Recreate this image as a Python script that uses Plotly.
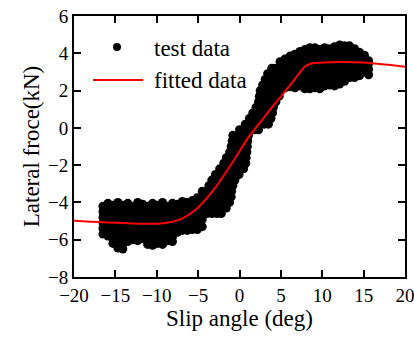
import plotly.graph_objects as go

# ---- measured tyre data -------------------------------------------------
# Lower saturation region: slip-angle columns and the forces recorded in each
low_slip = [-16.5, -15.9, -15.3, -14.7, -14.1, -13.5, -12.9, -12.3, -11.7, -11.1,
            -10.5, -9.9, -9.3, -8.7, -8.1, -7.5, -6.9, -6.3, -5.7, -5.1, -4.5]
low_force = [
    [-4.2, -4.5, -4.8, -5.1, -5.4, -5.7],
    [-4.05, -4.35, -4.65, -4.95, -5.25, -5.55, -5.8],
    [-4.15, -4.45, -4.75, -5.05, -5.35, -5.65, -5.95, -6.2],
    [-4.0, -4.3, -4.6, -4.9, -5.2, -5.5, -5.8, -6.1, -6.45],
    [-4.15, -4.45, -4.75, -5.05, -5.35, -5.65, -5.95, -6.25, -6.5],
    [-4.05, -4.35, -4.65, -4.95, -5.25, -5.55, -5.85, -6.1],
    [-4.2, -4.5, -4.8, -5.1, -5.4, -5.7, -6.0],
    [-4.0, -4.3, -4.6, -4.9, -5.2, -5.5, -5.8, -6.05],
    [-4.1, -4.4, -4.7, -5.0, -5.3, -5.6, -5.95],
    [-4.2, -4.5, -4.8, -5.1, -5.4, -5.7, -6.0, -6.25],
    [-4.05, -4.35, -4.65, -4.95, -5.25, -5.55, -5.85, -6.15, -6.3],
    [-4.15, -4.45, -4.75, -5.05, -5.35, -5.65, -5.95, -6.2],
    [-4.0, -4.3, -4.6, -4.9, -5.2, -5.5, -5.8, -6.1, -6.25],
    [-4.2, -4.5, -4.8, -5.1, -5.4, -5.7, -6.05],
    [-4.05, -4.35, -4.65, -4.95, -5.25, -5.55, -5.85, -6.1],
    [-4.1, -4.4, -4.7, -5.0, -5.3, -5.6],
    [-3.95, -4.25, -4.55, -4.85, -5.15, -5.5],
    [-4.0, -4.3, -4.6, -4.9, -5.2, -5.5],
    [-3.9, -4.2, -4.5, -4.8, -5.1, -5.45],
    [-3.75, -4.05, -4.35, -4.65, -4.95, -5.25, -5.45],
    [-3.4, -3.7, -4.0, -4.3, -4.6, -4.9, -5.3],
]

# Linear region: force levels and the slip angles recorded at each level
ramp_force = [-4.6, -4.3, -4.0, -3.7, -3.4, -3.1, -2.8, -2.5, -2.2, -1.9,
              -1.6, -1.3, -1.0, -0.7, -0.4, -0.1, 0.2, 0.5, 0.8, 1.1,
              1.4, 1.7, 2.0, 2.3, 2.6, 2.9, 3.2]
ramp_slip = [
    [-3.9, -3.3, -2.7, -2.2],
    [-3.9, -3.3, -2.7, -2.1, -1.6],
    [-3.9, -3.3, -2.7, -2.1, -1.6, -1.2],
    [-3.9, -3.3, -2.7, -2.1, -1.5, -1.0],
    [-3.9, -3.3, -2.7, -2.1, -1.5, -0.95],
    [-3.7, -3.1, -2.5, -1.9, -1.3, -0.8],
    [-3.35, -2.8, -2.2, -1.6, -1.0, -0.55],
    [-2.9, -2.3, -1.7, -1.1, -0.5, -0.05],
    [-2.4, -1.8, -1.2, -0.6, 0.0, 0.5],
    [-1.9, -1.35, -0.75, -0.15, 0.4, 0.75],
    [-1.6, -1.0, -0.4, 0.2, 0.8],
    [-1.2, -0.6, 0.0, 0.5, 0.9],
    [-1.0, -0.4, 0.2, 0.7, 0.95],
    [-0.9, -0.3, 0.3, 0.8, 1.0],
    [-0.8, -0.2, 0.4, 0.9, 1.1],
    [0.0, 0.6, 1.2, 1.75, 2.3],
    [0.7, 1.3, 1.9, 2.5, 3.0, 3.5],
    [1.2, 1.8, 2.4, 3.0, 3.5, 3.8],
    [1.6, 2.2, 2.8, 3.4, 4.0],
    [2.0, 2.6, 3.2, 3.7, 4.1],
    [2.3, 2.9, 3.5, 4.0, 4.4],
    [2.4, 3.0, 3.6, 4.2, 4.8],
    [2.5, 3.1, 3.7, 4.3, 4.9],
    [2.8, 3.4, 4.0, 4.5],
    [3.1, 3.7, 4.3],
    [3.4, 4.0, 4.5],
    [3.9, 4.4],
]

# Upper saturation region: slip-angle columns and the forces recorded in each
high_slip = [4.9, 5.5, 6.1, 6.7, 7.3, 7.9, 8.5, 9.1, 9.7, 10.3,
             10.9, 11.5, 12.1, 12.7, 13.3, 13.9, 14.5, 15.1, 15.6]
high_force = [
    [2.3, 2.6, 2.9, 3.2, 3.55],
    [2.15, 2.45, 2.75, 3.05, 3.35, 3.7],
    [2.2, 2.5, 2.8, 3.1, 3.4, 3.7, 3.85],
    [2.15, 2.45, 2.75, 3.05, 3.35, 3.65, 3.95],
    [2.25, 2.55, 2.85, 3.15, 3.45, 3.75, 4.1],
    [2.1, 2.4, 2.7, 3.0, 3.3, 3.6, 3.9, 4.2],
    [2.1, 2.4, 2.7, 3.0, 3.3, 3.6, 3.9, 4.3],
    [2.15, 2.45, 2.75, 3.05, 3.35, 3.65, 3.95, 4.3],
    [2.1, 2.4, 2.7, 3.0, 3.3, 3.6, 3.9, 4.2],
    [2.25, 2.55, 2.85, 3.15, 3.45, 3.75, 4.05, 4.3],
    [2.3, 2.6, 2.9, 3.2, 3.5, 3.8, 4.1, 4.25],
    [2.25, 2.55, 2.85, 3.15, 3.45, 3.75, 4.05, 4.35],
    [2.35, 2.65, 2.95, 3.25, 3.55, 3.85, 4.15, 4.45],
    [2.5, 2.8, 3.1, 3.4, 3.7, 4.0, 4.4],
    [2.7, 3.0, 3.3, 3.6, 3.9, 4.2, 4.4],
    [2.7, 3.0, 3.3, 3.6, 3.9, 4.25],
    [2.8, 3.1, 3.4, 3.7, 4.05],
    [3.0, 3.3, 3.6, 3.9],
    [2.85, 3.15, 3.45, 3.6],
]

# ---- fitted tyre model ----------------------------------------------------
fit_slip = [-20, -18, -16, -14, -12, -10, -9, -8, -7, -6, -5, -4, -3, -2, -1,
            0, 1, 2, 3, 4, 5, 6, 7, 7.5, 8, 8.5, 9, 10, 12, 14, 16, 18, 20]
fit_force = [-4.98, -5.03, -5.07, -5.11, -5.14, -5.14, -5.10, -5.02, -4.88, -4.62,
             -4.27, -3.80, -3.25, -2.62, -1.95, -1.25, -0.55, 0.02, 0.58, 1.15,
             1.68, 2.22, 2.80, 3.10, 3.32, 3.43, 3.48, 3.51, 3.53, 3.52,
             3.47, 3.38, 3.28]

x_ticks = [-20, -15, -10, -5, 0, 5, 10, 15, 20]
y_ticks = [-8, -6, -4, -2, 0, 2, 4, 6]

# flatten the three groups of measurements into one point cloud
test_x, test_y = [], []
for s, col in zip(low_slip, low_force):
    test_x += [s] * len(col)
    test_y += col
for f, row in zip(ramp_force, ramp_slip):
    test_x += row
    test_y += [f] * len(row)
for s, col in zip(high_slip, high_force):
    test_x += [s] * len(col)
    test_y += col

SERIF = "Liberation Serif"

fig = go.Figure()
fig.add_trace(go.Scatter(
    x=test_x, y=test_y, mode="markers", name="test data",
    marker=dict(size=9, color="black", line=dict(width=0)),
    showlegend=False,
))
fig.add_trace(go.Scatter(
    x=fit_slip, y=fit_force, mode="lines", name="fitted data",
    line=dict(color="#ff0000", width=2, shape="spline", smoothing=0.6),
    showlegend=False,
))

# legend drawn in the upper-left corner of the plotting area
fig.add_shape(type="circle", xref="paper", yref="paper",
              xsizemode="pixel", ysizemode="pixel",
              xanchor=0.130, yanchor=0.881,
              x0=-4, x1=4, y0=-4, y1=4,
              fillcolor="black", line=dict(width=0))
fig.add_shape(type="line", xref="paper", yref="paper",
              x0=0.0574, x1=0.2085, y0=0.7548, y1=0.7548,
              line=dict(color="#ff0000", width=2))
for label, ypos in (("test data", 0.875), ("fitted data", 0.753)):
    fig.add_annotation(text=label, xref="paper", yref="paper",
                       x=0.2356, y=ypos, xanchor="left", yanchor="middle",
                       showarrow=False, font=dict(family=SERIF, size=23, color="black"))

axis_common = dict(
    showline=True, linecolor="black", linewidth=2, mirror="ticks",
    ticks="inside", ticklen=7, tickwidth=1.5, tickcolor="black",
    showgrid=False, zeroline=False, automargin=False,
    ticklabeloverflow="allow",
    tickfont=dict(family=SERIF, size=19, color="black"),
)
fig.update_xaxes(range=[-20, 20], tickvals=x_ticks,
                 title=dict(text="Slip angle (deg)", standoff=4,
                            font=dict(family=SERIF, size=23, color="black")),
                 **axis_common)
fig.update_yaxes(range=[-8, 6], tickvals=y_ticks,
                 title=dict(text="Lateral froce(kN)", standoff=2,
                            font=dict(family=SERIF, size=23, color="black")),
                 **axis_common)

fig.update_layout(
    width=414, height=338,
    margin=dict(l=74, r=9, t=16, b=61),
    paper_bgcolor="white", plot_bgcolor="white",
    font=dict(family=SERIF, color="black"),
)

fig.write_html("out.html")
